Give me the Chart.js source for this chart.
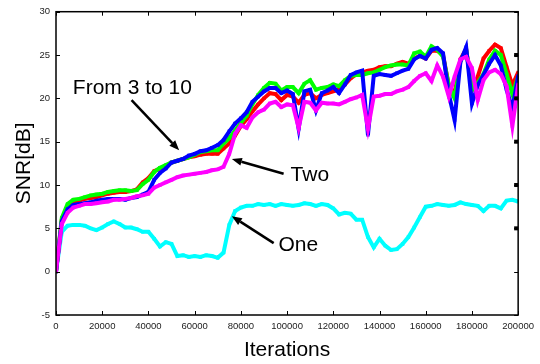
<!DOCTYPE html>
<html>
<head>
<meta charset="utf-8">
<script src="https://cdn.jsdelivr.net/npm/chart.js@4.4.1/dist/chart.umd.min.js"></script>
<style>
  html, body { margin: 0; padding: 0; background: #fff; }
  #wrap { width: 540px; height: 364px; position: relative; }
</style>
</head>
<body>
<div id="wrap"><canvas id="snrChart"></canvas></div>
<script>
// SNR vs training iterations

const iterations = [
  0, 2500, 5000, 7500, 10000, 12500, 15000, 17500, 20000, 22500,
  25000, 27500, 30000, 32500, 35000, 37500, 40000, 42500, 45000, 47500,
  50000, 52500, 55000, 57500, 60000, 62500, 65000, 67500, 70000, 72500,
  75000, 77500, 80000, 82500, 85000, 87500, 90000, 92500, 95000, 97500,
  100000, 102500, 105000, 107500, 110000, 112500, 115000, 117500, 120000, 122500,
  125000, 127500, 130000, 132500, 135000, 137500, 140000, 142500, 145000, 147500,
  150000, 152500, 155000, 157500, 160000, 162500, 165000, 167500, 170000, 172500,
  175000, 177500, 180000, 182500, 185000, 187500, 190000, 192500, 195000, 197500,
  200000
];

const snrRed = [
  0, 6.0, 7.5, 8.0, 8.2, 8.4, 8.5, 8.6, 8.8, 9.0,
  9.1, 9.2, 9.2, 9.3, 9.5, 10.3, 10.8, 11.6, 11.9, 12.2,
  12.6, 12.8, 13.0, 13.2, 13.3, 13.5, 13.6, 13.6, 13.6, 14.2,
  14.8, 15.7, 16.8, 17.6, 18.5, 19.3, 20.0, 20.6, 20.5, 19.8,
  20.4, 20.2, 19.5, 20.4, 20.6, 20.0, 20.4, 20.6, 20.8, 21.0,
  21.6, 22.3, 22.8, 23.0, 23.2, 23.3, 23.6, 23.7, 23.7, 24.0,
  24.2, 24.0, 24.6, 24.9, 24.6, 25.5, 25.5, 25.0, 21.5, 20.5,
  24.5, 25.7, 21.0, 22.5, 24.6, 25.5, 26.2, 25.8, 23.6, 21.5,
  23.0
];

const snrGreen = [
  0, 6.2, 7.8, 8.3, 8.4, 8.6, 8.8, 8.9, 9.0, 9.2,
  9.3, 9.4, 9.4, 9.3, 9.4, 10.1, 10.6, 11.5, 12.0, 12.3,
  12.6, 12.8, 13.0, 13.2, 13.5, 13.8, 13.9, 14.0, 14.0, 14.8,
  15.4, 16.3, 17.2, 18.0, 19.3, 20.4, 21.2, 21.8, 21.7, 20.9,
  21.3, 21.3, 20.6, 21.7, 22.1, 21.0, 21.2, 21.3, 21.6, 21.4,
  22.1, 22.6, 22.7, 22.7, 22.9, 23.0, 23.3, 23.6, 23.8, 23.9,
  23.9, 23.8, 25.2, 25.4, 24.8, 26.0, 25.6, 24.8, 21.5, 20.0,
  24.3, 25.6, 21.0, 21.8, 22.8, 24.5, 25.5, 25.0, 22.8, 20.5,
  22.5
];

const snrBlue = [
  0, 5.8, 7.2, 7.7, 7.8, 7.9, 8.0, 8.2, 8.3, 8.4,
  8.4, 8.4, 8.3, 8.5, 8.6, 8.9, 9.2, 10.6, 11.4, 11.9,
  12.6, 12.8, 13.0, 13.4, 13.6, 13.9, 14.0, 14.3, 14.6, 15.2,
  16.2, 17.1, 17.7, 18.4, 19.6, 20.2, 20.8, 21.2, 21.2, 20.6,
  20.9, 20.5, 16.5, 20.8, 21.0, 18.6, 20.6, 20.9, 21.3, 20.6,
  21.6, 22.7, 23.0, 23.2, 15.8, 22.6, 22.8, 22.7, 22.6, 22.9,
  23.2, 23.4, 24.5, 24.9, 24.6, 25.6, 25.8, 25.2, 20.5, 17.5,
  24.2, 25.9, 19.4, 21.5, 22.7, 24.0, 25.0, 23.8, 21.0, 18.8,
  22.6
];

const snrTwo = [
  0, 5.5, 6.8, 7.4, 7.6, 7.8, 7.8, 7.9, 8.0, 8.1,
  8.3, 8.3, 8.4, 8.5, 8.7, 8.8, 9.0, 9.7, 10.0, 10.3,
  10.6, 10.9, 11.1, 11.2, 11.3, 11.4, 11.5, 11.7, 11.8, 12.1,
  13.6, 15.9, 16.9, 16.6, 17.8, 18.4, 18.7, 19.4, 19.6, 19.0,
  19.3, 19.2, 16.6, 19.6, 19.5, 18.6, 19.5, 19.4, 19.4, 19.3,
  19.6, 19.9, 20.1, 20.4, 16.5, 20.2, 20.3, 20.5, 20.5, 20.8,
  21.0, 21.3, 22.0, 22.6, 22.9, 22.0, 23.8, 22.5, 20.2, 22.5,
  24.5, 24.8, 23.5, 19.8, 22.1, 23.0, 23.3, 22.8, 21.4, 16.8,
  21.6
];

const snrOne = [
  0, 4.6, 5.3, 5.4, 5.4, 5.3, 5.0, 4.8, 5.1, 5.5,
  5.8, 5.5, 5.1, 5.1, 4.9, 4.6, 4.6, 3.8, 2.9, 3.4,
  3.2, 1.8, 1.9, 1.7, 1.8, 1.7, 1.9, 1.8, 1.6, 2.2,
  5.4, 7.0, 7.4, 7.6, 7.6, 7.8, 7.7, 7.8, 7.6, 7.8,
  7.7, 7.6, 7.7, 7.9, 7.8, 7.6, 7.8, 7.7, 7.3, 6.6,
  6.8, 6.7, 6.0, 6.0, 4.0, 2.8, 3.8, 3.0, 2.5, 2.6,
  3.2, 4.0, 5.1, 6.3, 7.5, 7.6, 7.8, 7.7, 7.6, 7.7,
  8.0, 7.8, 7.7, 7.6, 7.0, 7.6, 7.6, 7.3, 8.2, 8.3,
  8.1
];

const xTickStep = 20000;
const yTickStep = 5;
const rightMarks = [5, 10, 15, 20, 25];

// callouts: text anchor and arrow (tail -> head), in data coordinates
const callouts = [
  { text: 'From 3 to 10', tx: 7300, ty: 21.2, from: [32700, 19.8], to: [53300, 14.0] },
  { text: 'Two', tx: 101500, ty: 11.1, from: [98500, 11.3], to: [76100, 13.0] },
  { text: 'One', tx: 96300, ty: 3.0, from: [94200, 3.3], to: [76100, 6.4] }
];

const FONT = '"Liberation Sans", Arial, sans-serif';

function toPoints(values) {
  return iterations.map((it, i) => ({ x: it, y: values[i] }));
}

function series(values, color, order) {
  return {
    data: toPoints(values),
    borderColor: color,
    backgroundColor: color,
    borderWidth: 4,
    pointStyle: 'rect',
    pointRadius: 2.4,
    pointBorderWidth: 0,
    showLine: true,
    tension: 0,
    order: order
  };
}

// frame + inward tick marks, like the original figure
const framePlugin = {
  id: 'frame',
  afterDraw(chart) {
    const ctx = chart.ctx;
    const a = chart.chartArea;
    const xs = chart.scales.x;
    const ys = chart.scales.y;
    ctx.save();
    ctx.strokeStyle = '#000';
    ctx.lineWidth = 1.5;
    ctx.strokeRect(a.left, a.top, a.right - a.left, a.bottom - a.top);
    ctx.lineWidth = 1;
    ctx.beginPath();
    xs.ticks.forEach(t => {
      const px = Math.round(xs.getPixelForValue(t.value)) + 0.5;
      ctx.moveTo(px, a.bottom); ctx.lineTo(px, a.bottom - 4);
      ctx.moveTo(px, a.top); ctx.lineTo(px, a.top + 4);
    });
    ys.ticks.forEach(t => {
      const py = Math.round(ys.getPixelForValue(t.value)) + 0.5;
      ctx.moveTo(a.left, py); ctx.lineTo(a.left + 4, py);
      ctx.moveTo(a.right, py); ctx.lineTo(a.right - 4, py);
    });
    ctx.stroke();
    ctx.fillStyle = '#000';
    rightMarks.forEach(v => {
      const py = ys.getPixelForValue(v);
      ctx.fillRect(a.right - 4, py - 2, 4, 4);
    });
    ctx.restore();
  }
};

const calloutPlugin = {
  id: 'callouts',
  afterDatasetsDraw(chart) {
    const ctx = chart.ctx;
    const xs = chart.scales.x;
    const ys = chart.scales.y;
    ctx.save();
    ctx.fillStyle = '#000';
    ctx.strokeStyle = '#000';
    ctx.font = '21px ' + FONT;
    ctx.textBaseline = 'middle';
    ctx.textAlign = 'left';
    callouts.forEach(c => {
      ctx.fillText(c.text, xs.getPixelForValue(c.tx), ys.getPixelForValue(c.ty));
      const x1 = xs.getPixelForValue(c.from[0]);
      const y1 = ys.getPixelForValue(c.from[1]);
      const x2 = xs.getPixelForValue(c.to[0]);
      const y2 = ys.getPixelForValue(c.to[1]);
      const ang = Math.atan2(y2 - y1, x2 - x1);
      const headLen = 10;
      const headW = 4;
      const bx = x2 - headLen * Math.cos(ang);
      const by = y2 - headLen * Math.sin(ang);
      ctx.lineWidth = 2.5;
      ctx.beginPath();
      ctx.moveTo(x1, y1);
      ctx.lineTo(bx, by);
      ctx.stroke();
      ctx.beginPath();
      ctx.moveTo(x2, y2);
      ctx.lineTo(bx + headW * Math.sin(ang), by - headW * Math.cos(ang));
      ctx.lineTo(bx - headW * Math.sin(ang), by + headW * Math.cos(ang));
      ctx.closePath();
      ctx.fill();
    });
    ctx.restore();
  }
};

new Chart(document.getElementById('snrChart'), {
  type: 'scatter',
  data: {
    datasets: [
      series(snrRed, '#ff0000', 3),
      series(snrGreen, '#00ff00', 2),
      series(snrBlue, '#0000ff', 1),
      series(snrTwo, '#ff00ff', 0),
      series(snrOne, '#00ffff', 4)
    ]
  },
  options: {
    responsive: true,
    maintainAspectRatio: false,
    devicePixelRatio: 1,
    animation: false,
    layout: { padding: { top: 8, right: 19, left: 0, bottom: 0 } },
    plugins: {
      legend: { display: false },
      tooltip: { enabled: false }
    },
    scales: {
      x: {
        type: 'linear',
        min: 0,
        max: 200000,
        afterFit: s => { s.height = 49; },
        grid: { display: false, drawTicks: false },
        border: { display: false },
        ticks: {
          stepSize: xTickStep,
          padding: 6,
          maxRotation: 0,
          autoSkip: false,
          color: '#222',
          font: { family: FONT, size: 9.5 },
          callback: v => String(v)
        },
        title: {
          display: true,
          text: 'Iterations',
          color: '#000',
          font: { family: FONT, size: 21 },
          padding: { top: 0, bottom: 1 }
        }
      },
      y: {
        min: -5,
        max: 30,
        afterFit: s => { s.width = 56; },
        grid: { display: false, drawTicks: false },
        border: { display: false },
        ticks: {
          stepSize: yTickStep,
          padding: 6,
          color: '#222',
          font: { family: FONT, size: 9.5 }
        },
        title: {
          display: true,
          text: 'SNR[dB]',
          color: '#000',
          font: { family: FONT, size: 21 },
          padding: { top: 12, bottom: 0 }
        }
      }
    }
  },
  plugins: [framePlugin, calloutPlugin]
});
</script>
</body>
</html>
